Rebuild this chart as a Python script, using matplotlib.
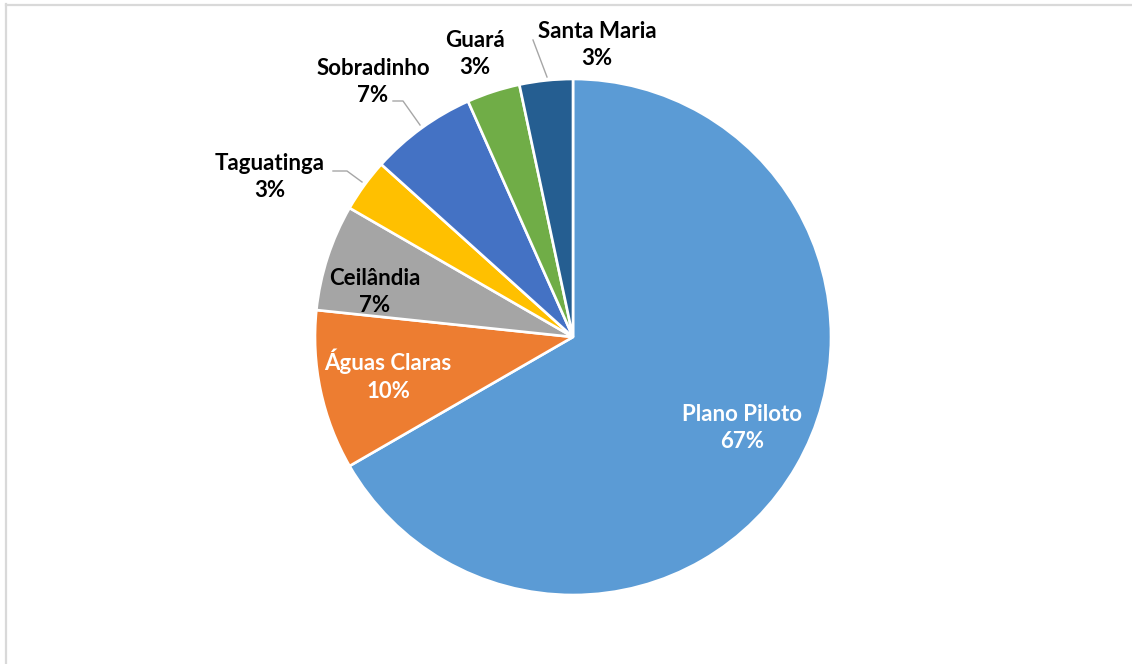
"""Pie chart: distribution by administrative region (DF)."""

import numpy as np
import matplotlib.pyplot as plt
from matplotlib.lines import Line2D

# ── Data ──────────────────────────────────────────────────────────────────────
REGIONS = ['Plano Piloto', 'Águas Claras', 'Ceilândia', 'Taguatinga',
           'Sobradinho', 'Guará', 'Santa Maria']
COUNTS  = [20, 3, 2, 1, 2, 1, 1]
COLORS  = ['#5B9BD5', '#ED7D31', '#A5A5A5', '#FFC000',
           '#4472C4', '#70AD47', '#255E91']

# ── Layout (pixels of the 1132x664 canvas) ────────────────────────────────────
W, H = 1132, 664
CX, CY, R = 573, 337, 258


def px(x, y):
    """pixel (from top-left) -> data units (pie radius = 1)"""
    return (x - CX) / R, (CY - y) / R


# label centre (pixel), text colour
LABEL_POS = {
    'Plano Piloto': ((742, 428), 'white'),
    'Águas Claras': ((388, 375), 'white'),
    'Ceilândia':    ((375, 292), 'black'),
    'Taguatinga':   ((270, 177), 'black'),
    'Sobradinho':   ((373, 82),  'black'),
    'Guará':        ((475, 54),  'black'),
    'Santa Maria':  ((597, 45),  'black'),
}
# leader lines (pixel polylines)
LEADERS = {
    'Taguatinga':  [(362, 182), (347, 171), (333, 171)],
    'Sobradinho':  [(420, 125), (403, 101), (393, 101)],
    'Santa Maria': [(547, 77), (533, 40)],
}

plt.rcParams['font.family'] = ['Lato', 'DejaVu Sans']

fig = plt.figure(figsize=(W / 100, H / 100), dpi=100)
ax = fig.add_axes([0, 0, 1, 1])

ax.pie(COUNTS, colors=COLORS, startangle=90, counterclock=False, radius=1,
       wedgeprops=dict(edgecolor='white', linewidth=1.9))
ax.set_xlim(-CX / R, (W - CX) / R)
ax.set_ylim(-(H - CY) / R, CY / R)
ax.axis('off')

total = sum(COUNTS)
for name, n in zip(REGIONS, COUNTS):
    (lx, ly), col = LABEL_POS[name]
    x, y = px(lx, ly)
    ax.text(x, y, f'{name}\n{100 * n / total:.0f}%', ha='center', va='center',
            fontsize=16, fontweight='bold', color=col, linespacing=1.4)

for name, pts in LEADERS.items():
    xy = np.array([px(*p) for p in pts])
    ax.plot(xy[:, 0], xy[:, 1], color='#A6A6A6', lw=1.0)

# chart frame (only top/left edges visible)
fig.add_artist(Line2D([6 / W, 6 / W], [0, 1 - 4 / H], transform=fig.transFigure,
                      color='#D9D9D9', lw=1.6))
fig.add_artist(Line2D([6 / W, 1], [1 - 5 / H, 1 - 5 / H], transform=fig.transFigure,
                      color='#D9D9D9', lw=1.6))

fig.savefig('out.png', dpi=100)
